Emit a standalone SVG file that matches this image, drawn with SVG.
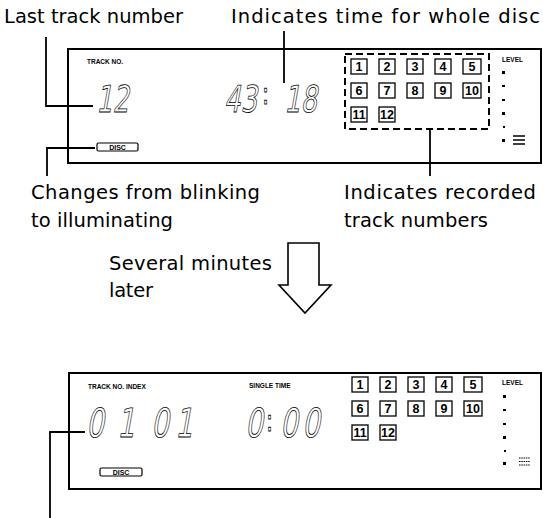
<svg xmlns="http://www.w3.org/2000/svg" width="543" height="518" viewBox="0 0 543 518">
<style>
.lbl{font-family:"DejaVu Sans","Liberation Sans",sans-serif;font-size:19.5px;fill:#000}
.tiny{font-family:"Liberation Sans",Arial,sans-serif;font-size:6.5px;font-weight:bold;fill:#000}
.seg{font-family:"DejaVu Sans","Liberation Sans",sans-serif;fill:none;stroke:#000;stroke-width:0.8}
.frame{fill:none;stroke:#000;stroke-width:2}
.box{fill:#fff;stroke:#000;stroke-width:1.3}
.num{font-family:"Liberation Sans",Arial,sans-serif;font-size:12.5px;font-weight:bold;fill:#000;text-anchor:middle}
.disc{fill:#fff;stroke:#000;stroke-width:1.2}
.disct{font-family:"Liberation Sans",Arial,sans-serif;font-size:7px;font-weight:bold;fill:#000;text-anchor:middle}
.lead{fill:none;stroke:#000;stroke-width:1.8}
.dash{fill:none;stroke:#000;stroke-width:2;stroke-dasharray:7 4}
.mark{fill:#000}
</style>

<g id="label-last-track">
<text class="lbl" x="4" y="23" textLength="179" lengthAdjust="spacing">Last track number</text>
</g>
<g id="label-time-whole-disc">
<text class="lbl" x="231" y="23" textLength="309" lengthAdjust="spacing">Indicates time for whole disc</text>
</g>
<g id="label-changes">
<text class="lbl" x="31" y="199" textLength="229" lengthAdjust="spacing">Changes from blinking</text>
<text class="lbl" x="31" y="227" textLength="142" lengthAdjust="spacing">to illuminating</text>
</g>
<g id="label-recorded">
<text class="lbl" x="344" y="199" textLength="192" lengthAdjust="spacing">Indicates recorded</text>
<text class="lbl" x="344" y="227" textLength="144" lengthAdjust="spacing">track numbers</text>
</g>
<g id="label-several">
<text class="lbl" x="109" y="270" textLength="163" lengthAdjust="spacing">Several minutes</text>
<text class="lbl" x="109" y="297" textLength="44" lengthAdjust="spacing">later</text>
</g>

<g id="arrow">
<path d="M288,243 H319 V285 H331 L305,313 L279,285 H288 Z" fill="#fff" stroke="#000" stroke-width="1.6" stroke-linejoin="miter"/>
</g>

<g id="panel-top">
<rect class="frame" x="68" y="49" width="473" height="114"/>
<text class="tiny" x="87" y="64">TRACK  NO.</text>
<text class="seg" font-size="37" transform="translate(96,112) skewX(-10) scale(0.7,1)">12</text>
<text class="seg" font-size="37" transform="translate(224,112) skewX(-10) scale(0.7,1)">43</text>
<text class="seg" font-size="30" transform="translate(262,104) scale(0.7,1)">:</text>
<text class="seg" font-size="37" transform="translate(284,112) skewX(-10) scale(0.7,1)">18</text>
<rect class="dash" x="345" y="54" width="144" height="75"/>
<g>
<rect class="box" x="351" y="59" width="16" height="15"/><text class="num" x="359" y="71">1</text>
<rect class="box" x="379" y="59" width="16" height="15"/><text class="num" x="387" y="71">2</text>
<rect class="box" x="407" y="59" width="16" height="15"/><text class="num" x="415" y="71">3</text>
<rect class="box" x="435" y="59" width="16" height="15"/><text class="num" x="443" y="71">4</text>
<rect class="box" x="463" y="59" width="18" height="15"/><text class="num" x="472" y="71">5</text>
<rect class="box" x="351" y="83" width="16" height="15"/><text class="num" x="359" y="95">6</text>
<rect class="box" x="379" y="83" width="16" height="15"/><text class="num" x="387" y="95">7</text>
<rect class="box" x="407" y="83" width="16" height="15"/><text class="num" x="415" y="95">8</text>
<rect class="box" x="435" y="83" width="16" height="15"/><text class="num" x="443" y="95">9</text>
<rect class="box" x="463" y="83" width="18" height="15"/><text class="num" x="472" y="95">10</text>
<rect class="box" x="351" y="107" width="16" height="15"/><text class="num" x="359" y="119">11</text>
<rect class="box" x="379" y="107" width="16" height="15"/><text class="num" x="387" y="119">12</text>
</g>
<text class="tiny" x="502" y="62">LEVEL</text>
<rect class="mark" x="502" y="71" width="3" height="3"/>
<rect class="mark" x="502" y="85" width="3" height="2"/>
<rect class="mark" x="502" y="99" width="3" height="2"/>
<rect class="mark" x="502" y="112" width="3" height="3"/>
<rect class="mark" x="503" y="126" width="2" height="2"/>
<rect class="mark" x="502" y="139" width="3" height="3"/>
<path d="M513,136 H525 M513,140 H525 M513,144 H525" stroke="#000" stroke-width="1.5"/>
<rect class="disc" x="97" y="143" width="41" height="8" rx="1.5"/>
<text class="disct" x="117.5" y="149.5">DISC</text>
</g>

<g id="panel-bottom">
<rect class="frame" x="69" y="373" width="472" height="116"/>
<text class="tiny" x="88" y="389">TRACK  NO.  INDEX</text>
<text class="tiny" x="249" y="388">SINGLE  TIME</text>
<text class="seg" font-size="40" transform="translate(86,437) skewX(-10) scale(0.7,1)">0</text>
<text class="seg" font-size="40" transform="translate(117,437) skewX(-10) scale(0.7,1)">1</text>
<text class="seg" font-size="40" transform="translate(151,437) skewX(-10) scale(0.7,1)">0</text>
<text class="seg" font-size="40" transform="translate(175,437) skewX(-10) scale(0.7,1)">1</text>
<text class="seg" font-size="40" transform="translate(245,437) skewX(-10) scale(0.7,1)">0</text>
<text class="seg" font-size="30" transform="translate(266,431) scale(0.7,1)">:</text>
<text class="seg" font-size="40" transform="translate(280,437) skewX(-10) scale(0.7,1)">0</text>
<text class="seg" font-size="40" transform="translate(302,437) skewX(-10) scale(0.7,1)">0</text>
<g>
<rect class="box" x="352" y="377" width="16" height="15"/><text class="num" x="360" y="389">1</text>
<rect class="box" x="380" y="377" width="16" height="15"/><text class="num" x="388" y="389">2</text>
<rect class="box" x="408" y="377" width="16" height="15"/><text class="num" x="416" y="389">3</text>
<rect class="box" x="436" y="377" width="16" height="15"/><text class="num" x="444" y="389">4</text>
<rect class="box" x="464" y="377" width="18" height="15"/><text class="num" x="473" y="389">5</text>
<rect class="box" x="352" y="401" width="16" height="15"/><text class="num" x="360" y="413">6</text>
<rect class="box" x="380" y="401" width="16" height="15"/><text class="num" x="388" y="413">7</text>
<rect class="box" x="408" y="401" width="16" height="15"/><text class="num" x="416" y="413">8</text>
<rect class="box" x="436" y="401" width="16" height="15"/><text class="num" x="444" y="413">9</text>
<rect class="box" x="464" y="401" width="18" height="15"/><text class="num" x="473" y="413">10</text>
<rect class="box" x="352" y="425" width="16" height="15"/><text class="num" x="360" y="437">11</text>
<rect class="box" x="380" y="425" width="16" height="15"/><text class="num" x="388" y="437">12</text>
</g>
<text class="tiny" x="502" y="385">LEVEL</text>
<rect class="mark" x="503" y="395" width="3" height="3"/>
<rect class="mark" x="503" y="409" width="3" height="2"/>
<rect class="mark" x="503" y="423" width="3" height="2"/>
<rect class="mark" x="503" y="436" width="3" height="3"/>
<rect class="mark" x="504" y="450" width="2" height="2"/>
<rect class="mark" x="503" y="462" width="3" height="3"/>
<path d="M519,458 H530 M519,461.5 H530 M519,465 H530" stroke="#000" stroke-width="1.2" stroke-dasharray="1.5 0.8"/>
<rect class="disc" x="100" y="468" width="42" height="8" rx="1.5"/>
<text class="disct" x="121" y="474.5">DISC</text>
</g>

<g id="connectors">
<path class="lead" d="M46,37 V106 H93"/>
<path class="lead" d="M284,31 V83"/>
<path class="lead" d="M47,176 V148 H95"/>
<path class="lead" d="M430,129 V176"/>
<path class="lead" d="M50,518 V432 H85"/>
</g>
</svg>
